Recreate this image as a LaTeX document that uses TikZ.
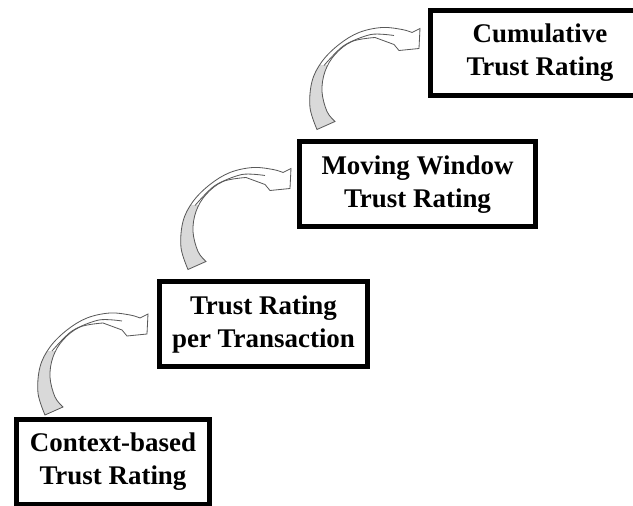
\documentclass[tikz,border=0pt]{standalone}
\usepackage{fontspec}
\setmainfont{Liberation Serif}

% outline of one curved step arrow, tail centre at the origin
\newcommand\curvpath{plot[smooth,tension=.6] coordinates {(-9,-4) (-16,18) (-14,44) (-4,64) (13,81) (33,93) (56,98) (76,96) (86,93)}
  -- (94,97) -- (93,77) -- (73,75) -- (68,81)
  -- plot[smooth,tension=.6] coordinates {(49,88) (26,84) (9,71) (-1,54) (-4,34) (1,14) (9,4)} -- cycle}

\begin{document}
\begin{tikzpicture}[x=0.03cm,y=0.03cm,
    rate/.style={draw,line width=0.15cm,minimum height=2.55cm,align=center,
      inner sep=0pt,font=\fontsize{23}{28}\selectfont\bfseries},
    arrline/.style={draw=black!65,line width=0.7pt},
    curv/.pic={
      \fill[white] \curvpath;
      \begin{scope}
        \clip \curvpath;
        \fill[black!15] (-30,-10) rectangle (40,60);
      \end{scope}
      \draw[arrline] \curvpath;
      \draw[arrline] plot[smooth] coordinates {(-2,60) (18,80) (45,91) (68,90)};
    }]
  \clip (0,0) rectangle (633,506);

  \node[rate,minimum width=5.79cm] (cbt) at (113,44) {Context-based\\Trust Rating};
  \node[rate,minimum width=6.24cm] (trt) at (263.5,181.5) {Trust Rating\\per Transaction};
  \node[rate,minimum width=7.08cm] (mwt) at (417.5,321.5) {Moving Window\\Trust Rating};
  \node[rate,minimum width=6.57cm] (ctr) at (540,453) {Cumulative\\Trust Rating};

  \pic at ([shift={(40,6)}]cbt.north west) {curv};
  \pic at ([shift={(40,14)}]trt.north west) {curv};
  \pic at ([shift={(29,14)}]mwt.north west) {curv};
\end{tikzpicture}
\end{document}
